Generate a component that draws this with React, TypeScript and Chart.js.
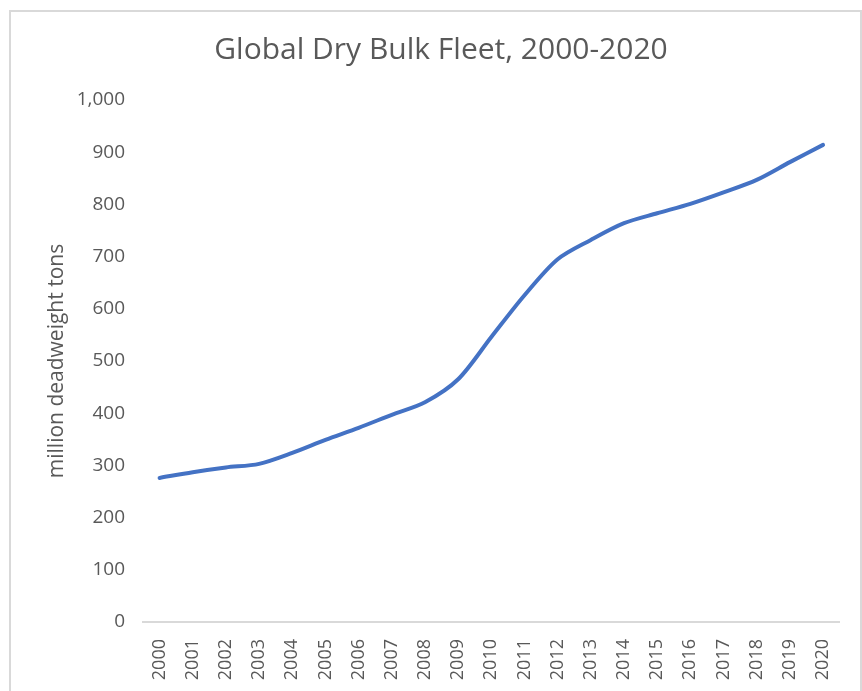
import React, { useEffect, useRef } from "react";
import { Chart, registerables } from "chart.js";

Chart.register(...registerables);

const years = [
  "2000", "2001", "2002", "2003", "2004", "2005", "2006", "2007", "2008", "2009",
  "2010", "2011", "2012", "2013", "2014", "2015", "2016", "2017", "2018", "2019", "2020",
];
const fleet = [
  276, 287, 296, 303, 324, 349, 372, 397, 421, 465,
  546, 626, 695, 732, 764, 783, 801, 823, 847, 881, 914,
];
const chartTitle = "Global Dry Bulk Fleet, 2000-2020";
const yAxisTitle = "million deadweight tons";

const FONT = "'Open Sans', 'Noto Sans', sans-serif";
const TEXT = "#595959";

export default function App() {
  const ref = useRef<HTMLCanvasElement | null>(null);

  useEffect(() => {
    if (!ref.current) return;
    const chart = new Chart(ref.current, {
      type: "line",
      data: {
        labels: years,
        datasets: [
          {
            data: fleet,
            borderColor: "#4472C4",
            backgroundColor: "#4472C4",
            borderWidth: 4,
            pointRadius: 0,
            tension: 0.3,
            borderCapStyle: "round",
            borderJoinStyle: "round",
            fill: false,
          },
        ],
      },
      options: {
        animation: false,
        responsive: false,
        devicePixelRatio: 1,
        layout: { padding: { left: 35, right: 15, top: 0, bottom: 0 } },
        plugins: {
          legend: { display: false },
          tooltip: { enabled: false },
          title: {
            display: true,
            text: chartTitle,
            color: TEXT,
            font: { family: FONT, size: 30, weight: "normal" },
            padding: { top: 32, bottom: 32 },
          },
        },
        scales: {
          x: {
            offset: true,
            grid: { display: false, drawTicks: false },
            border: { display: true, color: "#d9d9d9", width: 2 },
            ticks: {
              color: TEXT,
              font: { family: FONT, size: 18 },
              minRotation: 90,
              maxRotation: 90,
              padding: 17,
              autoSkip: false,
            },
            afterFit: (scale: any) => {
              scale.height = 69;
            },
          },
          y: {
            min: 0,
            max: 1000,
            grid: { display: false, drawTicks: false },
            border: { display: false },
            ticks: {
              stepSize: 100,
              color: TEXT,
              font: { family: FONT, size: 19 },
              padding: 18,
              callback: (v: any) => Number(v).toLocaleString("en-US"),
            },
            title: {
              display: true,
              text: yAxisTitle,
              color: TEXT,
              font: { family: FONT, size: 21 },
              padding: { top: 9, bottom: 0 },
            },
            afterFit: (scale: any) => {
              scale.width = 108;
            },
          },
        },
      },
    });
    return () => chart.destroy();
  }, []);

  return (
    <div>
      <div
        style={{
          position: "fixed",
          left: 9,
          top: 10,
          width: 849,
          height: 700,
          borderTop: "2px solid #d9d9d9",
          borderLeft: "2px solid #d9d9d9",
          borderRight: "2px solid #d9d9d9",
          boxSizing: "content-box",
        }}
      />
      <canvas
        ref={ref}
        width={862}
        height={691}
        style={{ position: "fixed", left: 0, top: 0, width: 862, height: 691 }}
      />
    </div>
  );
}
